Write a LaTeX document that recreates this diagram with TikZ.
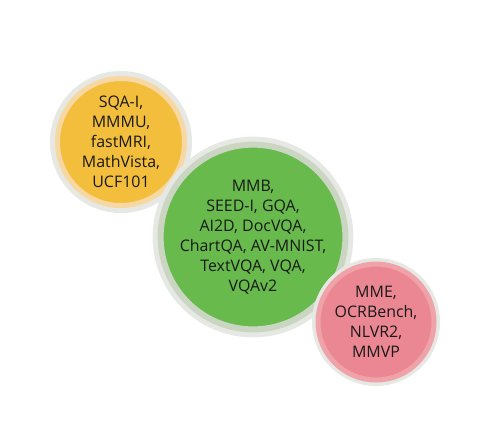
\documentclass[tikz,border=0pt]{standalone}
\usepackage{fontspec}
\setmainfont{Open Sans}
\usepackage{tikz}
\usetikzlibrary{positioning}
\usepackage{xcolor}
\definecolor{yellowfill}{HTML}{F2BE3C}
\definecolor{yellowring}{HTML}{F7D7A2}
\definecolor{greenfill}{HTML}{67BA4B}
\definecolor{greenring}{HTML}{CAD5C2}
\definecolor{pinkfill}{HTML}{EA8792}
\definecolor{pinkring}{HTML}{F0A2A9}
\definecolor{halogray}{HTML}{E6E8E4}
\tikzset{
	bench/.style={circle, inner sep=0, outer sep=0, align=center,
		font=\fontsize{16}{20}\selectfont, text=black!90},
	halo/.style={preaction={draw=halogray, line width=#1}}
}

\begin{document}
\begin{tikzpicture}[x=1bp, y=-1bp]
	\useasboundingbox (0,0) rectangle (480,421);
	
	\node [bench, halo=15bp, fill=yellowfill, draw=yellowring, line width=5bp, minimum size=127bp] (yellow) at (121,142)
		{SQA-I,\\MMMU,\\fastMRI,\\MathVista,\\UCF101};
	\node [bench, halo=16bp, fill=greenfill, draw=greenring, line width=6bp, minimum size=166bp] (green) at (253,237)
		{MMB,\\SEED-I, GQA,\\AI2D, DocVQA,\\ChartQA, AV-MNIST,\\TextVQA, VQA,\\VQAv2};
	\node [bench, halo=12bp, fill=pinkfill, draw=pinkring, line width=5bp, minimum size=116bp] (pink) at (376,322)
		{MME,\\OCRBench,\\NLVR2,\\MMVP};
\end{tikzpicture}
\end{document}
